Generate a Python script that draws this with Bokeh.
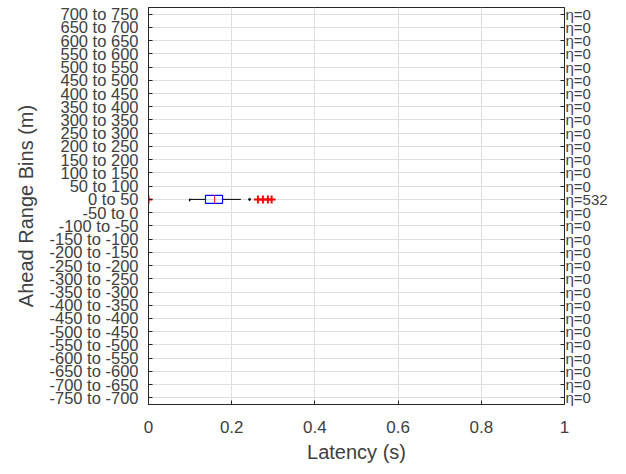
from bokeh.plotting import figure
from bokeh.models import LinearAxis, Range1d, FixedTicker, AllLabels
from bokeh.embed import file_html
from bokeh.resources import INLINE

# ---- data ----
bins_top_to_bottom = ["700 to 750", "650 to 700", "600 to 650", "550 to 600", "500 to 550",
                      "450 to 500", "400 to 450", "350 to 400", "300 to 350", "250 to 300",
                      "200 to 250", "150 to 200", "100 to 150", "50 to 100", "0 to 50",
                      "-50 to 0", "-100 to -50", "-150 to -100", "-200 to -150", "-250 to -200",
                      "-300 to -250", "-350 to -300", "-400 to -350", "-450 to -400", "-500 to -450",
                      "-550 to -500", "-600 to -550", "-650 to -600", "-700 to -650", "-750 to -700"]
counts_top_to_bottom = [0, 0, 0, 0, 0, 0, 0, 0, 0, 0, 0, 0, 0, 0, 532,
                        0, 0, 0, 0, 0, 0, 0, 0, 0, 0, 0, 0, 0, 0, 0]

box_bin = "0 to 50"
whisker_low = 0.099
q1 = 0.137
median = 0.159
q3 = 0.178
whisker_high = 0.222
outliers = [0.0, 0.263, 0.275, 0.287, 0.296]
stray_dot = [0.243]

x_ticks = [0, 0.2, 0.4, 0.6, 0.8, 1.0]
x_tick_labels = ["0", "0.2", "0.4", "0.6", "0.8", "1"]

FONT = "Liberation Sans"
TXT = "#404040"
AX = "#262626"

# bins bottom-to-top occupy positions 1..N on the y scale
factors = list(reversed(bins_top_to_bottom))
counts = list(reversed(counts_top_to_bottom))
pos = {b: i + 1 for i, b in enumerate(factors)}
y_ticks = [pos[b] for b in factors]

p = figure(width=610, height=466, output_backend="svg", toolbar_location=None,
           y_range=Range1d(0.5, len(factors) + 0.5),
           x_range=Range1d(0, 1), y_axis_location=None, x_axis_location=None,
           min_border_left=148, min_border_right=45, min_border_top=7, min_border_bottom=62)
p.outline_line_color = AX

# axes
left = LinearAxis(axis_label="Ahead Range Bins (m)", ticker=FixedTicker(ticks=y_ticks))
left.major_label_overrides = {pos[b]: b for b in factors}
right = LinearAxis(ticker=FixedTicker(ticks=y_ticks))
right.major_label_overrides = {pos[b]: "\u03b7=%d" % c for b, c in zip(factors, counts)}
for ax in (left, right):
    ax.major_tick_in = 4
    ax.major_tick_out = 0
    ax.minor_tick_in = 0
    ax.minor_tick_out = 0
    ax.major_label_policy = AllLabels()
    ax.major_label_text_font = FONT
    ax.major_label_text_color = TXT
    ax.axis_line_color = AX
    ax.major_tick_line_color = AX
left.major_label_text_font_size = "16.5px"
left.major_label_standoff = 10
right.major_label_standoff = 1
right.major_label_text_font_size = "15px"
left.axis_label_text_font = FONT
left.axis_label_text_font_size = "20px"
left.axis_label_text_font_style = "normal"
left.axis_label_text_color = TXT
left.axis_label_standoff = 10
p.add_layout(left, "left")
p.add_layout(right, "right")

bottom = LinearAxis(axis_label="Latency (s)", ticker=FixedTicker(ticks=x_ticks))
bottom.major_label_overrides = {t: l for t, l in zip(x_ticks, x_tick_labels)}
bottom.major_tick_in = 4
bottom.major_tick_out = 0
bottom.minor_tick_in = 0
bottom.minor_tick_out = 0
bottom.major_label_standoff = 16
bottom.major_label_text_font = FONT
bottom.major_label_text_font_size = "17px"
bottom.major_label_text_color = TXT
bottom.axis_label_text_font = FONT
bottom.axis_label_text_font_size = "20px"
bottom.axis_label_text_font_style = "normal"
bottom.axis_label_text_color = TXT
bottom.axis_label_standoff = 5
bottom.axis_line_color = AX
bottom.major_tick_line_color = AX
p.add_layout(bottom, "below")

# grid
p.xgrid.ticker = FixedTicker(ticks=x_ticks)
p.ygrid.ticker = FixedTicker(ticks=y_ticks)
p.xgrid.grid_line_color = "#dedede"
p.ygrid.grid_line_color = "#dedede"

# box plot
yb = pos[box_bin]
p.segment(x0=[whisker_low, q3], y0=[yb, yb], x1=[q1, whisker_high], y1=[yb, yb],
          line_color="black", line_width=1)
p.segment(x0=[whisker_low], y0=[yb - 0.15], x1=[whisker_low], y1=[yb + 0.05],
          line_color="black", line_width=1.5)
p.hbar(y=[yb], left=[q1], right=[q3], height=0.6, fill_color=None,
       line_color="#0000ff", line_width=1.2)
p.segment(x0=[median], y0=[yb - 0.3], x1=[median], y1=[yb + 0.3],
          line_color="#ff0000", line_width=1)
p.scatter(x=outliers, y=[yb] * len(outliers), marker="cross", size=8,
          line_color="#ff0000", line_width=2)
p.scatter(x=stray_dot, y=[yb] * len(stray_dot), marker="circle", size=2,
          fill_color="black", line_color="black")

open("out.html", "w").write(file_html(p, INLINE))
